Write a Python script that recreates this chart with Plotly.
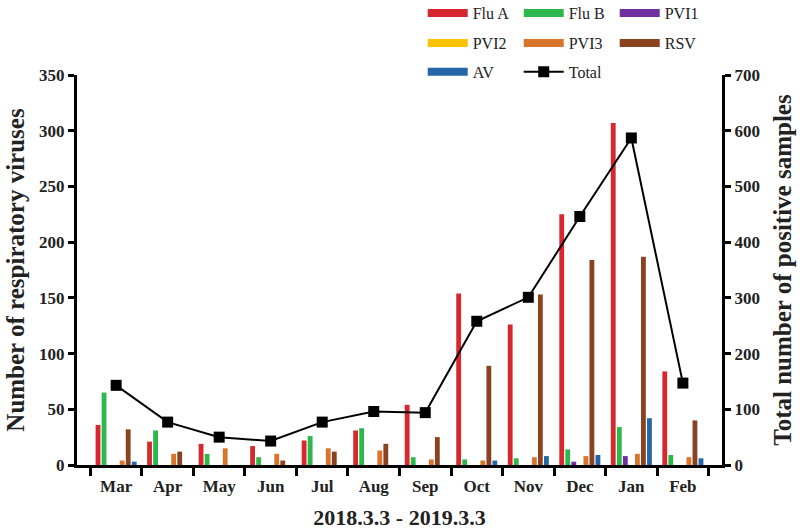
import plotly.graph_objects as go

months = ["Mar", "Apr", "May", "Jun", "Jul", "Aug", "Sep", "Oct", "Nov", "Dec", "Jan", "Feb"]
flu_a = [36, 21, 19, 17, 22, 31, 54, 154, 126, 225, 307, 84]
flu_b = [65, 31, 10, 7, 26, 33, 7, 5, 6, 14, 34, 9]
pvi1 = [0, 0, 0, 0, 0, 0, 0, 0, 0, 3, 8, 0]
pvi2 = [0, 0, 0, 0, 0, 0, 0, 0, 0, 0, 0, 0]
pvi3 = [4, 10, 15, 10, 15, 13, 5, 4, 7, 8, 10, 7]
rsv = [32, 12, 0, 4, 12, 19, 25, 89, 153, 184, 187, 40]
av = [3, 0, 0, 0, 0, 0, 0, 4, 8, 9, 42, 6]
total = [143, 77, 50, 43, 77, 96, 94, 258, 301, 446, 587, 147]

series = [
    ("Flu A", flu_a, "#D7282F", "legend"),
    ("Flu B", flu_b, "#2DB84D", "legend"),
    ("PVI1", pvi1, "#7030A0", "legend"),
    ("PVI2", pvi2, "#FFC000", "legend2"),
    ("PVI3", pvi3, "#D9742B", "legend2"),
    ("RSV", rsv, "#8B4220", "legend2"),
    ("AV", av, "#2566A8", "legend3"),
]

SERIF = "Liberation Serif"
TXT = "#222"
fig = go.Figure()
for name, vals, col, lg in series:
    fig.add_trace(go.Bar(x=months, y=vals, name=name, marker=dict(color=col, line=dict(width=0)),
                         showlegend=False))
for name, vals, col, lg in series:
    fig.add_trace(go.Scatter(x=[None], y=[None], mode="lines", name=name,
                             line=dict(color=col, width=8), legend=lg, hoverinfo="skip"))

fig.add_trace(go.Scatter(x=months, y=total, name="Total", yaxis="y2", mode="lines+markers",
                         line=dict(color="black", width=2),
                         marker=dict(symbol="square", size=11, color="black"),
                         legend="legend3"))

legend_common = dict(orientation="h", xanchor="left", yanchor="middle",
                     font=dict(family=SERIF, size=16, color=TXT),
                     entrywidth=41, bgcolor="rgba(0,0,0,0)", itemwidth=40, tracegroupgap=0)

LX = 0.536
fig.update_layout(
    width=800, height=530,
    margin=dict(l=77, r=78, t=75, b=65, autoexpand=False),
    plot_bgcolor="white", paper_bgcolor="white",
    barmode="group", bargap=0.18, bargroupgap=0.2,
    legend=dict(x=LX, y=1.159, **legend_common),
    legend2=dict(x=LX, y=1.082, **legend_common),
    legend3=dict(x=LX, y=1.008, **legend_common),
    xaxis=dict(
        showline=True, linecolor="black", linewidth=3,
        ticks="outside", ticklen=8, tickwidth=3, tickcolor="black", tickson="boundaries",
        ticklabelstandoff=4,
        tickfont=dict(family=SERIF, size=17, color=TXT, weight="bold"),
        title=dict(text="2018.3.3 - 2019.3.3", font=dict(family=SERIF, size=22, color=TXT, weight="bold"),
                   standoff=16),
        showgrid=False,
    ),
    yaxis=dict(
        range=[0, 350], dtick=50, showline=True, linecolor="black", linewidth=3,
        ticks="outside", ticklen=6, tickwidth=3, tickcolor="black", showgrid=False, zeroline=False,
        tickfont=dict(family=SERIF, size=17, color=TXT, weight="bold"),
        title=dict(text="Number of respiratory viruses", font=dict(family=SERIF, size=25, color=TXT, weight="bold"),
                   standoff=8),
    ),
    yaxis2=dict(
        range=[0, 700], dtick=100, overlaying="y", side="right", showline=True, linecolor="black",
        linewidth=3, ticks="outside", ticklen=6, tickwidth=3, tickcolor="black", showgrid=False,
        zeroline=False,
        tickfont=dict(family=SERIF, size=17, color=TXT, weight="bold"),
        title=dict(text="Total number of positive samples", font=dict(family=SERIF, size=25, color=TXT, weight="bold"),
                   standoff=15),
    ),
)

fig.write_html("out.html", config={"displayModeBar": False},
               post_script="document.body.style.margin='0px';")
